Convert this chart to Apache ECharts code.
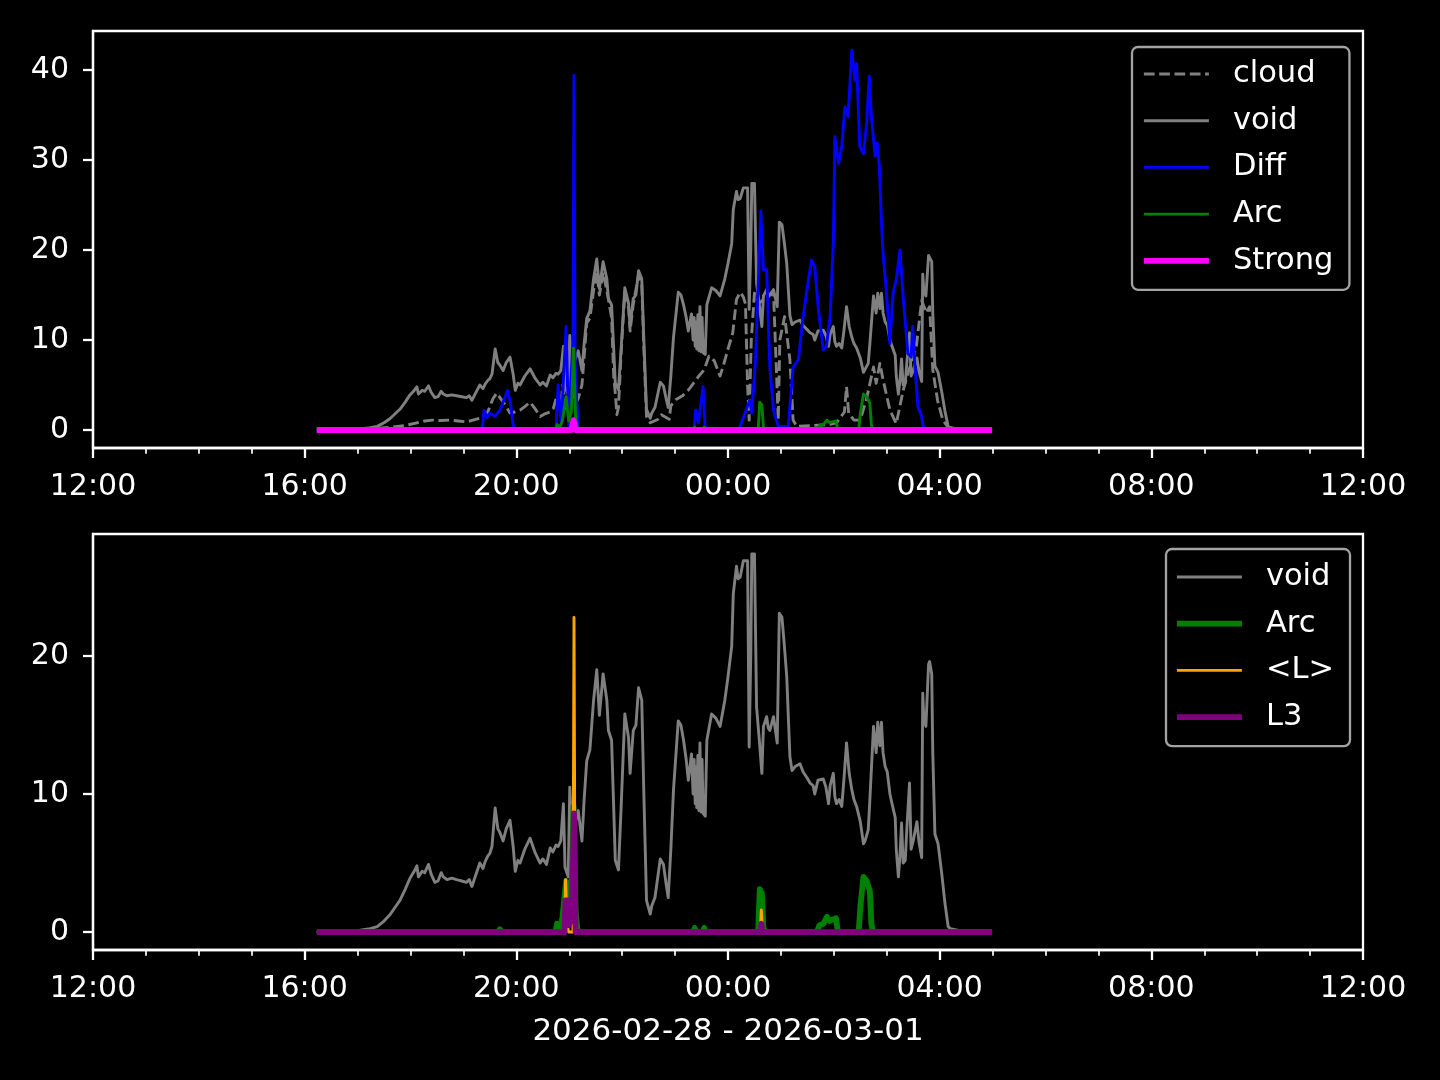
<!DOCTYPE html>
<html>
<head>
<meta charset="utf-8">
<script src="https://cdn.jsdelivr.net/npm/echarts@6/dist/echarts.min.js"></script>
<style>
html,body{margin:0;padding:0;background:#000;}
#chart{width:1440px;height:1080px;}
</style>
</head>
<body>
<div id="chart"></div>
<script>
// x values: hours since 2026-02-28 12:00
const xTickValues = [0, 4, 8, 12, 16, 20, 24];
const xTickLabels = ['12:00', '16:00', '20:00', '00:00', '04:00', '08:00', '12:00'];
const topYTicks = [0, 10, 20, 30, 40];
const bottomYTicks = [0, 10, 20];
const dateLabel = '2026-02-28 - 2026-03-01';

const voidT = [4.23,4.95,5.08,5.24,5.37,5.50,5.61,5.71,5.80,5.90,
5.99,6.07,6.12,6.15,6.22,6.27,6.34,6.39,6.46,6.52,
6.58,6.62,6.69,6.78,6.87,6.97,7.06,7.11,7.16,7.24,
7.31,7.37,7.41,7.46,7.50,7.54,7.60,7.65,7.69,7.75,
7.81,7.88,7.94,7.98,8.03,8.07,8.16,8.26,8.35,8.45,
8.50,8.57,8.64,8.69,8.75,8.79,8.84,8.89,8.92,8.98,
9.01,9.05,9.09,9.17,9.24,9.28,9.33,9.39,9.46,9.52,
9.57,9.64,9.71,9.74,9.80,9.84,9.87,9.93,9.98,10.05,
10.12,10.15,10.21,10.26,10.31,10.37,10.41,10.46,10.53,10.56,
10.62,10.72,10.78,10.83,10.87,10.92,10.97,11.06,11.11,11.16,
11.21,11.25,11.31,11.34,11.36,11.38,11.40,11.41,11.43,11.45,
11.47,11.49,11.51,11.53,11.57,11.60,11.69,11.77,11.85,11.94,
12.00,12.07,12.10,12.16,12.19,12.23,12.29,12.37,12.40,12.43,
12.45,12.50,12.54,12.59,12.64,12.67,12.73,12.76,12.79,12.86,
12.93,12.97,13.02,13.06,13.11,13.17,13.21,13.27,13.36,13.42,
13.49,13.55,13.61,13.64,13.70,13.80,13.85,13.90,13.93,13.99,
14.02,14.05,14.10,14.15,14.19,14.24,14.29,14.34,14.38,14.43,
14.50,14.56,14.59,14.65,14.68,14.75,14.80,14.83,14.87,14.90,
14.93,14.97,15.01,15.06,15.10,15.16,15.18,15.22,15.25,15.28,
15.31,15.35,15.38,15.43,15.46,15.50,15.57,15.61,15.66,15.68,
15.70,15.74,15.79,15.81,15.85,15.87,15.91,15.97,16.04,16.10,
16.16,16.20,16.38,16.99];
const voidV = [0,0.05,0.15,0.25,0.4,0.8,1.25,1.8,2.3,3.1,
3.9,4.4,4.8,4.0,4.4,4.3,4.9,4.2,3.6,3.7,
4.3,4.0,3.8,3.9,3.8,3.7,3.6,3.8,3.3,4.2,
5.0,4.6,5.1,5.5,5.7,6.2,9.0,7.5,7.2,6.6,
7.5,8.1,6.2,4.4,5.2,5.0,6.0,6.8,5.8,5.0,
5.3,4.9,6.1,5.8,6.3,6.2,6.6,9.3,4.7,4.0,
10.5,7.0,7.5,8.8,6.6,9.5,12.4,13.2,16.8,19.0,
15.7,18.7,16.8,14.6,13.9,9.0,5.2,4.5,9.0,15.8,
14.1,11.5,14.6,15.0,17.7,16.8,10.0,2.3,1.3,1.9,
2.5,5.3,4.9,3.5,2.5,6.0,10.3,15.3,15.0,13.9,
12.5,11.0,12.9,10.0,12.5,9.3,12.0,9.0,12.8,8.8,
13.7,8.7,12.5,8.6,8.4,13.9,15.8,15.5,14.9,16.8,
18.5,20.7,24.5,26.5,25.6,25.7,26.9,26.9,13.4,20.0,
27.4,27.4,16.3,14.0,11.5,14.9,15.6,14.8,14.6,15.6,
13.7,23.1,22.8,21.0,18.5,12.7,11.7,12.0,12.2,11.6,
11.2,10.8,10.6,10.0,11.0,11.1,10.5,9.3,10.6,11.5,
9.8,9.3,9.6,9.1,11.0,13.7,11.5,10.3,9.6,9.1,
8.0,6.4,6.6,7.4,9.5,14.9,13.0,15.2,13.5,15.2,
13.0,12.0,11.6,10.0,9.3,8.3,6.0,4.0,5.5,7.9,
5.0,5.2,7.5,10.8,6.0,6.6,8.0,6.5,5.4,17.3,
15.5,14.9,19.4,19.6,18.7,13.0,7.1,6.4,4.2,2.1,
0.4,0.25,0.1,0.1];

const cloudT = [4.23,5.08,5.61,5.90,6.12,6.27,6.42,6.56,6.75,6.90,
7.06,7.18,7.31,7.46,7.56,7.63,7.69,7.79,7.88,7.97,
8.07,8.16,8.26,8.35,8.45,8.54,8.64,8.70,8.76,8.83,
8.88,8.94,9.01,9.07,9.13,9.17,9.24,9.28,9.33,9.39,
9.46,9.52,9.57,9.64,9.71,9.80,9.84,9.87,9.90,9.93,
9.98,10.05,10.12,10.15,10.21,10.31,10.37,10.41,10.46,10.53,
10.68,10.74,10.89,10.92,11.02,11.14,11.26,11.36,11.45,11.55,
11.64,11.74,11.85,11.91,12.00,12.09,12.16,12.23,12.29,12.33,
12.37,12.40,12.44,12.50,12.59,12.73,12.86,12.95,12.98,13.07,
13.17,13.23,13.30,13.60,13.90,14.05,14.20,14.24,14.28,14.38,
14.50,14.62,14.75,14.80,14.87,14.93,15.06,15.18,15.31,15.40,
15.56,15.66,15.75,15.81,15.87,15.96,16.06,16.16,16.40,16.99];
const cloudV = [0,0.05,0.3,0.5,0.8,1.0,1.1,1.05,1.1,1.0,
0.9,1.1,1.3,2.0,3.5,4.1,3.6,2.8,1.9,2.0,
2.2,2.6,3.1,2.4,1.5,1.8,2.0,2.4,3.7,2.5,
5.0,2.0,6.0,4.0,3.0,3.5,5.0,8.0,11.9,12.4,
15.5,17.5,15.0,17.5,15.5,12.5,6.0,4.1,1.7,2.5,
8.5,15.3,13.6,11.0,14.0,17.2,16.3,9.0,1.5,0.8,
1.2,1.7,1.2,2.7,3.4,3.8,4.5,5.3,6.0,6.7,
8.2,7.7,6.0,7.1,9.0,10.8,14.5,15.3,14.8,14.0,
5.0,1.1,10.0,15.2,14.1,14.8,15.2,1.1,10.0,12.6,
7.8,1.1,0.4,0.5,0.6,0.8,2.0,4.8,1.9,1.1,
1.1,3.5,7.0,5.2,7.4,5.6,2.2,0.7,4.4,6.3,
9.3,14.4,13.0,13.7,6.7,3.3,1.1,0.3,0.05,0];

const diffT = [4.23,7.33,7.36,7.39,7.45,7.50,7.60,7.69,7.79,7.83,
7.88,7.94,7.98,8.75,8.79,8.85,8.94,8.99,9.07,9.09,
9.11,9.14,9.18,11.36,11.39,11.44,11.53,11.57,12.20,12.23,
12.41,12.45,12.52,12.62,12.67,12.73,12.79,12.86,12.95,13.14,
13.23,13.33,13.42,13.52,13.58,13.64,13.71,13.80,13.86,13.93,
13.99,14.02,14.09,14.15,14.21,14.27,14.34,14.40,14.43,14.49,
14.56,14.62,14.67,14.71,14.78,14.82,14.86,14.90,14.93,14.99,
15.06,15.12,15.18,15.25,15.31,15.40,15.46,15.49,15.53,15.59,
15.66,15.69,15.72,16.99];
const diffV = [0,0,0.4,2.2,1.4,1.9,1.5,2.2,3.7,4.4,
3.3,0.6,0,0,5.0,0.7,11.5,0.5,10.0,39.4,
8.0,3.3,0,0,2.2,0.8,4.8,0,0,0.4,
3.3,1.9,7.8,24.3,17.8,17.8,7.0,2.2,0.4,0.4,
7.0,7.8,12.6,16.7,18.9,18.1,13.3,8.9,9.3,12.6,
20.7,32.6,29.6,31.5,35.9,34.8,42.2,38.9,40.7,31.5,
30.7,34.1,39.3,34.8,30.4,31.9,29.3,23.0,19.6,15.6,
9.6,15.2,16.7,20.0,14.8,8.5,8.1,11.5,7.4,2.6,
1.5,0.4,0,0];

const arcT = [4.23,7.66,7.69,7.72,8.74,8.77,8.82,8.87,8.94,8.99,
9.04,9.08,9.12,9.16,11.35,11.37,11.40,11.53,11.55,11.58,
12.57,12.60,12.64,12.67,12.70,13.68,13.73,13.80,13.87,13.92,
13.97,14.04,14.07,14.09,14.47,14.50,14.56,14.62,14.68,14.71,
14.74,16.99];
const arcV = [0,0,0.2,0,0,0.6,0.3,1.0,3.7,1.0,
2.0,9.1,1.5,0,0,0.3,0,0,0.3,0,
0,3.1,2.8,0.3,0,0,0.5,0.6,1.1,0.8,
0.9,1.0,0.2,0,0,1.8,4.0,3.7,3.0,0.6,
0,0];

const strongT = [4.23,9.04,9.08,9.12,16.99];
const strongV = [0,0,1.1,0,0];

const meanLT = [4.23,8.91,8.93,8.96,8.99,9.07,9.09,9.11,12.61,12.63,12.65,16.99];
const meanLV = [0,0,3.8,0.5,0,0,22.8,0,0,1.6,0,0];

const l3T = [4.23,8.91,8.93,8.97,8.99,9.05,9.09,9.12,12.61,12.63,12.65,16.99];
const l3V = [0,0,2.3,2.3,0.5,1.0,8.6,0,0,0.6,0,0];

const pairs = (ts, vs) => ts.map((t, i) => [t, vs[i]]);

const FONT = 'DejaVu Sans';
const FS = 30;
const FS_LEG = 30.5;
const FS_NAME = 31;
const WHITE = '#ffffff';
const GRAY = '#808080';
const THIN = 2.9;
const THICK = 5.8;
const DASH = [10.7, 4.6];
const HIDDEN = { color: 'rgba(0,0,0,0)', borderColor: 'rgba(0,0,0,0)', borderWidth: 0, opacity: 0 };

function xAxis(gridIndex, withName) {
  const ax = {
    type: 'value', gridIndex: gridIndex, min: 0, max: 24, interval: 4,
    axisLine: { show: true, onZero: false, lineStyle: { color: WHITE, width: 2.3 } },
    axisTick: { show: true, length: 10, lineStyle: { color: WHITE, width: 2.3 } },
    minorTick: { show: true, splitNumber: 4, length: 5.8, lineStyle: { color: WHITE, width: 1.7 } },
    splitLine: { show: false },
    axisLabel: {
      color: WHITE, fontSize: FS, fontFamily: FONT, margin: 24,
      formatter: v => xTickLabels[xTickValues.indexOf(v)]
    }
  };
  if (withName) {
    ax.name = dateLabel;
    ax.nameLocation = 'middle';
    ax.nameGap = 66;
    ax.nameTextStyle = { color: WHITE, fontSize: FS_NAME, fontFamily: FONT };
  }
  return ax;
}
function yAxis(gridIndex, min, max, ticks) {
  return {
    type: 'value', gridIndex: gridIndex, min: min, max: max,
    axisLine: { show: true, lineStyle: { color: WHITE, width: 2.3 } },
    axisTick: { show: true, length: 10, customValues: ticks, lineStyle: { color: WHITE, width: 2.3 } },
    splitLine: { show: false },
    axisLabel: { color: WHITE, fontSize: FS, fontFamily: FONT, margin: 24, customValues: ticks,
      verticalAlign: 'middle', padding: [9, 0, 0, 0] }
  };
}
function line(name, data, color, width, ax, type) {
  return {
    name: name, type: 'line', data: data, xAxisIndex: ax, yAxisIndex: ax,
    symbol: 'none', showSymbol: false, animation: false, silent: true,
    lineStyle: { color: color, width: width, type: type || 'solid', cap: 'butt', join: 'round' },
    itemStyle: { color: color }
  };
}
function legendItem(name, color, width, type) {
  return { name: name, lineStyle: { color: color, width: width, type: type || 'solid', cap: 'butt' }, itemStyle: HIDDEN };
}
const legendCommon = {
  orient: 'vertical', itemWidth: 65, itemHeight: 14, itemGap: 12.7,
  backgroundColor: '#000', borderColor: '#a3a3a3', borderWidth: 2.3, borderRadius: 6,
  selectedMode: false,
  itemStyle: HIDDEN,
  textStyle: { color: WHITE, fontSize: FS_LEG, fontFamily: FONT, lineHeight: 34, padding: [0, 0, 0, 19] }
};

const option = {
  backgroundColor: '#000',
  animation: false,
  grid: [
    { left: 93, top: 31, width: 1270, height: 417, show: true, borderColor: WHITE, borderWidth: 2.3, backgroundColor: '#000' },
    { left: 93, top: 534, width: 1270, height: 416, show: true, borderColor: WHITE, borderWidth: 2.3, backgroundColor: '#000' }
  ],
  xAxis: [xAxis(0, false), xAxis(1, true)],
  yAxis: [yAxis(0, -2.0, 44.33, topYTicks), yAxis(1, -1.3, 28.84, bottomYTicks)],
  legend: [
    Object.assign({}, legendCommon, {
      left: 1132, top: 47, padding: [10, 16, 12, 9],
      data: [
        legendItem('cloud', GRAY, THIN, DASH),
        legendItem('void', GRAY, THIN),
        legendItem('Diff', '#0000ff', THIN),
        legendItem('Arc', '#008000', THIN),
        legendItem('Strong', '#ff00ff', THICK)
      ]
    }),
    Object.assign({}, legendCommon, {
      left: 1166, top: 549, padding: [11, 16, 12, 8],
      data: [
        legendItem('void', GRAY, THIN),
        legendItem('Arc', '#008000', THICK),
        legendItem('<L>', '#ffa500', THIN),
        legendItem('L3', '#800080', THICK)
      ]
    })
  ],
  series: [
    line('cloud', pairs(cloudT, cloudV), GRAY, THIN, 0, DASH),
    line('void', pairs(voidT, voidV), GRAY, THIN, 0),
    line('Diff', pairs(diffT, diffV), '#0000ff', THIN, 0),
    line('Arc', pairs(arcT, arcV), '#008000', THIN, 0),
    line('Strong', pairs(strongT, strongV), '#ff00ff', THICK, 0),
    line('void', pairs(voidT, voidV), GRAY, THIN, 1),
    line('Arc', pairs(arcT, arcV), '#008000', THICK, 1),
    line('<L>', pairs(meanLT, meanLV), '#ffa500', THIN, 1),
    line('L3', pairs(l3T, l3V), '#800080', THICK, 1)
  ]
};
const chart = echarts.init(document.getElementById('chart'), null, { renderer: 'canvas' });
chart.setOption(option);
</script>
</body>
</html>
